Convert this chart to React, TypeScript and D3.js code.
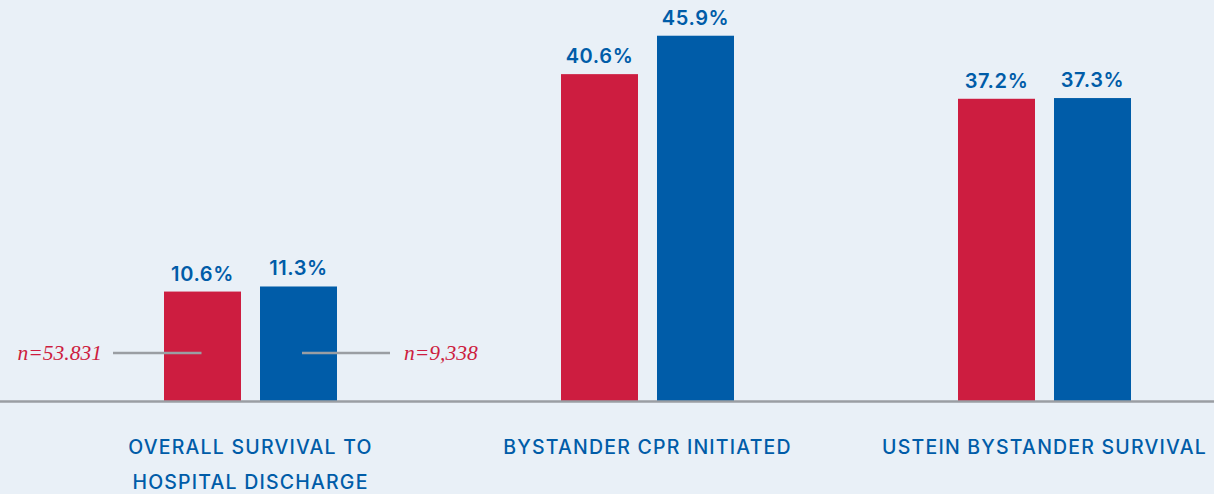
import React, { useEffect, useRef } from "react";
import * as d3 from "d3";

const categories = ["OVERALL SURVIVAL TO|HOSPITAL DISCHARGE", "BYSTANDER CPR INITIATED", "USTEIN BYSTANDER SURVIVAL"];
const seriesNames = ["group A", "group B"];
const seriesA = [10.6, 40.6, 37.2];
const seriesB = [11.3, 45.9, 37.3];
const annotations = [
  { text: "n=53.831", series: 0, category: 0 },
  { text: "n=9,338", series: 1, category: 0 },
];

const W = 1214;
const H = 494;
const RED = "#cd1d40";
const BLUE = "#005ca8";
const BG = "#e9f0f7";

export default function App() {
  const ref = useRef<SVGSVGElement | null>(null);

  useEffect(() => {
    document.body.style.margin = "0";
    const svg = d3.select(ref.current);
    svg.selectAll("*").remove();

    const baseY = 401;
    const x0 = d3.scaleBand<string>().domain(categories).range([52, 1243]).padding(0);
    const x1 = d3.scaleBand<string>().domain(seriesNames).range([-86.5, 86.5]).paddingInner(0.198).paddingOuter(0);
    const y = d3.scaleLinear().domain([-4.5, 46]).range([baseY, 35]);

    svg.append("rect").attr("width", W).attr("height", H).attr("fill", BG);

    const data = categories.map((c, i) => ({ c, vals: [seriesA[i], seriesB[i]] }));
    const colors = [RED, BLUE];

    const g = svg.selectAll("g.grp").data(data).enter().append("g")
      .attr("transform", (d) => `translate(${x0(d.c)! + x0.bandwidth() / 2},0)`);

    seriesNames.forEach((s, si) => {
      g.append("rect")
        .attr("x", x1(s)!)
        .attr("width", x1.bandwidth())
        .attr("y", (d) => y(d.vals[si]))
        .attr("height", (d) => baseY - y(d.vals[si]))
        .attr("fill", colors[si]);
      g.append("text")
        .attr("x", x1(s)! + x1.bandwidth() / 2)
        .attr("y", (d) => y(d.vals[si]) - 11)
        .attr("text-anchor", "middle")
        .attr("font-family", "Inter, 'Open Sans', sans-serif")
        .attr("font-weight", 600)
        .attr("font-size", 20)
        .attr("letter-spacing", 0.6)
        .attr("fill", BLUE)
        .text((d) => d.vals[si].toFixed(1) + "%");
    });

    // baseline
    svg.append("line").attr("x1", 0).attr("x2", W).attr("y1", baseY + 0.5).attr("y2", baseY + 0.5)
      .attr("stroke", "#9a9ea3").attr("stroke-width", 2.5);

    // category labels
    g.each(function (d) {
      const lines = d.c.split("|");
      const t = d3.select(this).append("text")
        .attr("text-anchor", "middle")
        .attr("font-family", "Inter, 'Open Sans', sans-serif")
        .attr("font-weight", 500)
        .attr("font-size", 19.5)
        .attr("letter-spacing", 1.2)
        .attr("fill", BLUE);
      lines.forEach((l, li) => {
        t.append("tspan").attr("x", 0).attr("y", 454 + li * 35).text(l);
      });
    });

    // annotations
    annotations.forEach((a) => {
      const cx = x0(categories[a.category])! + x0.bandwidth() / 2;
      const bx = cx + x1(seriesNames[a.series])! + x1.bandwidth() / 2;
      const ly = 353;
      const left = a.series === 0;
      const xs = left ? bx - 1 : bx + 3.5;
      const xe = left ? bx - 89.5 : bx + 91.5;
      svg.append("line").attr("x1", xs).attr("x2", xe).attr("y1", ly).attr("y2", ly)
        .attr("stroke", "#9a9ea3").attr("stroke-width", 2.5);
      svg.append("text")
        .attr("x", left ? xe - 11 : xe + 14)
        .attr("y", ly + 7)
        .attr("text-anchor", left ? "end" : "start")
        .attr("font-family", "'Liberation Serif', 'Times New Roman', serif")
        .attr("font-style", "italic")
        .attr("font-size", 21.5)
        .attr("fill", RED)
        .text(a.text);
    });
  }, []);

  return (
    <svg ref={ref} width={W} height={H} style={{ position: "absolute", left: 0, top: 0, display: "block" }} />
  );
}
